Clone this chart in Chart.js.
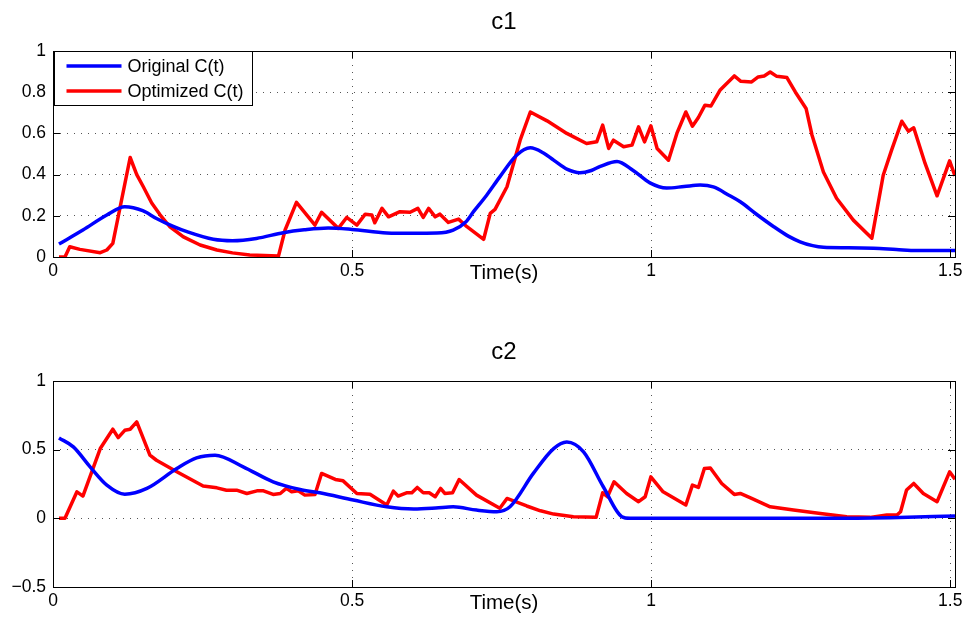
<!DOCTYPE html>
<html>
<head>
<meta charset="utf-8">
<script src="https://cdn.jsdelivr.net/npm/chart.js@4.4.0/dist/chart.umd.min.js"></script>
<style>
  html, body { margin: 0; padding: 0; background: #fff; overflow: hidden; }
  .plot { position: absolute; left: 0; }
</style>
</head>
<body>
<canvas id="c1" class="plot" width="968" height="289" style="top:0"></canvas>
<canvas id="c2" class="plot" width="968" height="289" style="top:330px"></canvas>
<script>
(function () {
  'use strict'

  const seriesNames = ['Original C(t)', 'Optimized C(t)']
  const xTicks = [0, 0.5, 1, 1.5]
  const xMax = 1.508
  const c1Ticks = [0, 0.2, 0.4, 0.6, 0.8, 1]
  const c2Ticks = [-0.5, 0, 0.5, 1]

  // c1 - original
  const c1OrigT = [0.01, 0.05, 0.09, 0.12, 0.15, 0.173, 0.2, 0.224, 0.268, 0.30, 0.34, 0.385, 0.42, 0.46, 0.50, 0.558, 0.60, 0.642,
    0.669, 0.69, 0.703, 0.725, 0.747, 0.775, 0.798, 0.82, 0.837, 0.86, 0.881, 0.90, 0.915, 0.943, 0.97, 0.998, 1.026, 1.055,
    1.082, 1.104, 1.13, 1.149, 1.175, 1.205, 1.23, 1.249, 1.27, 1.288, 1.33, 1.372, 1.41, 1.444, 1.508]
  const c1OrigV = [0.063, 0.131, 0.204, 0.244, 0.225, 0.187, 0.15, 0.123, 0.086, 0.079, 0.09, 0.118, 0.132, 0.141, 0.134, 0.117, 0.115, 0.116,
    0.13, 0.17, 0.22, 0.3, 0.389, 0.494, 0.53, 0.505, 0.47, 0.425, 0.409, 0.42, 0.44, 0.464, 0.42, 0.36, 0.335, 0.342,
    0.349, 0.34, 0.30, 0.268, 0.21, 0.147, 0.10, 0.074, 0.055, 0.047, 0.045, 0.042, 0.036, 0.031, 0.031]

  // c1 - optimized
  const c1OptT = [0.01, 0.02, 0.028, 0.045, 0.079, 0.09, 0.10, 0.129, 0.14, 0.151, 0.165, 0.179, 0.195, 0.218, 0.246, 0.274, 0.3, 0.329, 0.377, 0.388, 0.407,
    0.438, 0.449, 0.477, 0.491, 0.508, 0.522, 0.533, 0.538, 0.55, 0.561, 0.58, 0.597, 0.61, 0.619, 0.628, 0.639, 0.647, 0.661,
    0.678, 0.692, 0.72, 0.731, 0.739, 0.759, 0.781, 0.798, 0.826, 0.859, 0.892, 0.909, 0.919, 0.929, 0.937, 0.954, 0.968, 0.979,
    0.989, 0.9995, 1.01, 1.029, 1.043, 1.058, 1.069, 1.079, 1.09, 1.1, 1.115, 1.139, 1.15, 1.168, 1.179, 1.189, 1.199, 1.21,
    1.227, 1.241, 1.259, 1.269, 1.288, 1.31, 1.338, 1.369, 1.388, 1.402, 1.419, 1.43, 1.439, 1.458, 1.478, 1.499, 1.508]
  const c1OptV = [0, 0, 0.05, 0.037, 0.021, 0.034, 0.066, 0.483, 0.40, 0.341, 0.262, 0.205, 0.148, 0.098, 0.058, 0.034, 0.02, 0.01, 0.005, 0.131, 0.265,
    0.155, 0.217, 0.139, 0.192, 0.155, 0.208, 0.204, 0.166, 0.236, 0.195, 0.22, 0.217, 0.236, 0.192, 0.236, 0.195, 0.208, 0.168,
    0.184, 0.147, 0.086, 0.212, 0.231, 0.341, 0.567, 0.704, 0.661, 0.6, 0.551, 0.559, 0.64, 0.527, 0.567, 0.535, 0.543, 0.632,
    0.559, 0.637, 0.527, 0.47, 0.6, 0.704, 0.635, 0.677, 0.737, 0.733, 0.809, 0.879, 0.853, 0.85, 0.874, 0.879, 0.898, 0.877,
    0.871, 0.801, 0.721, 0.591, 0.413, 0.285, 0.179, 0.091, 0.397, 0.519, 0.659, 0.611, 0.627, 0.454, 0.297, 0.467, 0.394]

  // c2 - original
  const c2OrigT = [0.01, 0.034, 0.062, 0.09, 0.12, 0.157, 0.207, 0.24, 0.271, 0.318, 0.368, 0.413, 0.446, 0.502, 0.558, 0.603, 0.64,
    0.669, 0.708, 0.742, 0.764, 0.803, 0.837, 0.859, 0.887, 0.92, 0.951, 0.965, 1.0, 1.3, 1.4, 1.508]
  const c2OrigV = [0.585, 0.52, 0.375, 0.242, 0.176, 0.218, 0.363, 0.44, 0.46, 0.375, 0.266, 0.21, 0.186, 0.133, 0.084, 0.068, 0.075,
    0.084, 0.06, 0.048, 0.084, 0.327, 0.508, 0.556, 0.484, 0.23, 0.012, 0, 0, 0, 0.005, 0.017]

  // c2 - optimized
  const c2OptT = [0.01, 0.02, 0.04, 0.05, 0.079, 0.1, 0.109, 0.12, 0.129, 0.14, 0.162, 0.173, 0.207, 0.251, 0.274, 0.29, 0.307,
    0.324, 0.341, 0.352, 0.368, 0.38, 0.39, 0.399, 0.41, 0.421, 0.438, 0.449, 0.472, 0.485, 0.508, 0.53, 0.558, 0.569, 0.577,
    0.591, 0.6, 0.609, 0.619, 0.629, 0.639, 0.648, 0.655, 0.668, 0.679, 0.708, 0.747, 0.759, 0.792, 0.815, 0.837, 0.87, 0.908, 0.919,
    0.927, 0.938, 0.959, 0.979, 0.99, 0.9995, 1.02, 1.058, 1.069, 1.079, 1.089, 1.099, 1.118, 1.139, 1.149, 1.168, 1.199, 1.238,
    1.283, 1.327, 1.366, 1.394, 1.411, 1.417, 1.427, 1.439, 1.455, 1.478, 1.499, 1.508]
  const c2OptV = [0, 0, 0.193, 0.162, 0.508, 0.649, 0.588, 0.641, 0.649, 0.702, 0.46, 0.423, 0.339, 0.235, 0.222, 0.205, 0.205,
    0.181, 0.2, 0.2, 0.174, 0.181, 0.218, 0.193, 0.2, 0.169, 0.174, 0.327, 0.283, 0.273, 0.181, 0.176, 0.097, 0.198, 0.162,
    0.186, 0.186, 0.225, 0.186, 0.186, 0.157, 0.218, 0.181, 0.186, 0.283, 0.169, 0.073, 0.145, 0.09, 0.055, 0.031, 0.012, 0.007, 0.186,
    0.157, 0.266, 0.181, 0.121, 0.157, 0.302, 0.193, 0.097, 0.242, 0.225, 0.363, 0.367, 0.254, 0.174, 0.181, 0.145, 0.084, 0.06,
    0.036, 0.012, 0.007, 0.024, 0.024, 0.048, 0.206, 0.254, 0.181, 0.121, 0.338, 0.285]

  const font = "'Liberation Sans', Arial, Helvetica, sans-serif"
  Chart.defaults.font.family = font
  Chart.defaults.color = '#000'

  const pts = (ts, vs) => ts.map((t, i) => ({ x: t, y: vs[i] }))
  const fmt = v => (v < 0 ? '\u2212' + Math.abs(v) : String(v))

  // box round the axes, inward ticks on all four sides, legend in the corner
  const matlabAxes = {
    id: 'matlabAxes',
    afterDatasetsDraw(chart, args, opts) {
      const { ctx, chartArea: a, scales } = chart
      ctx.save()
      ctx.strokeStyle = '#000'
      ctx.lineWidth = 1
      ctx.beginPath()
      scales.x.ticks.forEach(t => {
        const px = Math.round(scales.x.getPixelForValue(t.value)) + 0.5
        ctx.moveTo(px, a.bottom); ctx.lineTo(px, a.bottom - 7)
        ctx.moveTo(px, a.top); ctx.lineTo(px, a.top + 7)
      })
      scales.y.ticks.forEach(t => {
        const py = Math.round(scales.y.getPixelForValue(t.value)) + 0.5
        ctx.moveTo(a.left, py); ctx.lineTo(a.left + 7, py)
        ctx.moveTo(a.right, py); ctx.lineTo(a.right - 7, py)
      })
      ctx.stroke()
      ctx.strokeRect(Math.round(a.left) + 0.5, Math.round(a.top) + 0.5, Math.round(a.width), Math.round(a.height))

      if (opts.legend) {
        const lx = Math.round(a.left) + 1.5
        const ly = Math.round(a.top) + 0.5
        ctx.fillStyle = '#fff'
        ctx.fillRect(lx, ly, 198, 54)
        ctx.strokeRect(lx, ly, 198, 54)
        ctx.font = '18px ' + font
        ctx.textBaseline = 'middle'
        chart.data.datasets.forEach((ds, i) => {
          const y = ly + 14.5 + i * 25
          ctx.strokeStyle = ds.borderColor
          ctx.lineWidth = 3.5
          ctx.beginPath()
          ctx.moveTo(lx + 12, y); ctx.lineTo(lx + 67, y)
          ctx.stroke()
          ctx.fillStyle = '#000'
          ctx.fillText(ds.label, lx + 73, y + 1)
        })
      }
      ctx.restore()
    }
  }

  function makeChart(id, title, yTicks, origT, origV, optT, optV, legend) {
    const ctx = document.getElementById(id).getContext('2d')
    return new Chart(ctx, {
      type: 'line',
      data: {
        datasets: [
          { label: seriesNames[0], data: pts(origT, origV), borderColor: 'rgb(0,0,255)', borderWidth: 3.5,
            pointRadius: 0, fill: false, tension: 0.4, cubicInterpolationMode: 'monotone' },
          { label: seriesNames[1], data: pts(optT, optV), borderColor: 'rgb(255,0,0)', borderWidth: 3.5,
            pointRadius: 0, fill: false, tension: 0, borderJoinStyle: 'round' }
        ]
      },
      options: {
        responsive: false,
        animation: false,
        events: [],
        layout: { padding: { left: 0, right: 13, top: 0, bottom: 3 } },
        plugins: {
          legend: { display: false },
          tooltip: { enabled: false },
          title: {
            display: true, text: title, fullSize: false, color: '#000',
            font: { size: 24, weight: 'normal' },
            padding: { top: 8, bottom: 14.2 }
          },
          matlabAxes: { legend: legend }
        },
        scales: {
          x: {
            type: 'linear', min: 0, max: xMax,
            afterBuildTicks: s => { s.ticks = xTicks.map(v => ({ value: v })) },
            afterFit: s => { s.height = 29 },
            ticks: { font: { size: 17.5 }, color: '#000', padding: 4, maxRotation: 0, callback: fmt },
            grid: { color: '#555', lineWidth: 1, drawTicks: false, tickLength: 0 },
            border: { display: false, dash: [1, 6] },
            title: { display: true, text: 'Time(s)', color: '#000', font: { size: 20.5 }, padding: 0 }
          },
          y: {
            type: 'linear', min: yTicks[0], max: yTicks[yTicks.length - 1],
            afterBuildTicks: s => { s.ticks = yTicks.map(v => ({ value: v })) },
            afterFit: s => { s.width = 53 },
            ticks: { font: { size: 17.5 }, color: '#000', padding: 7, callback: fmt },
            grid: { color: '#555', lineWidth: 1, drawTicks: false, tickLength: 0 },
            border: { display: false, dash: [1, 6] }
          }
        }
      },
      plugins: [matlabAxes]
    })
  }

  makeChart('c1', 'c1', c1Ticks, c1OrigT, c1OrigV, c1OptT, c1OptV, true)
  makeChart('c2', 'c2', c2Ticks, c2OrigT, c2OrigV, c2OptT, c2OptV, false)
})()
</script>
</body>
</html>
